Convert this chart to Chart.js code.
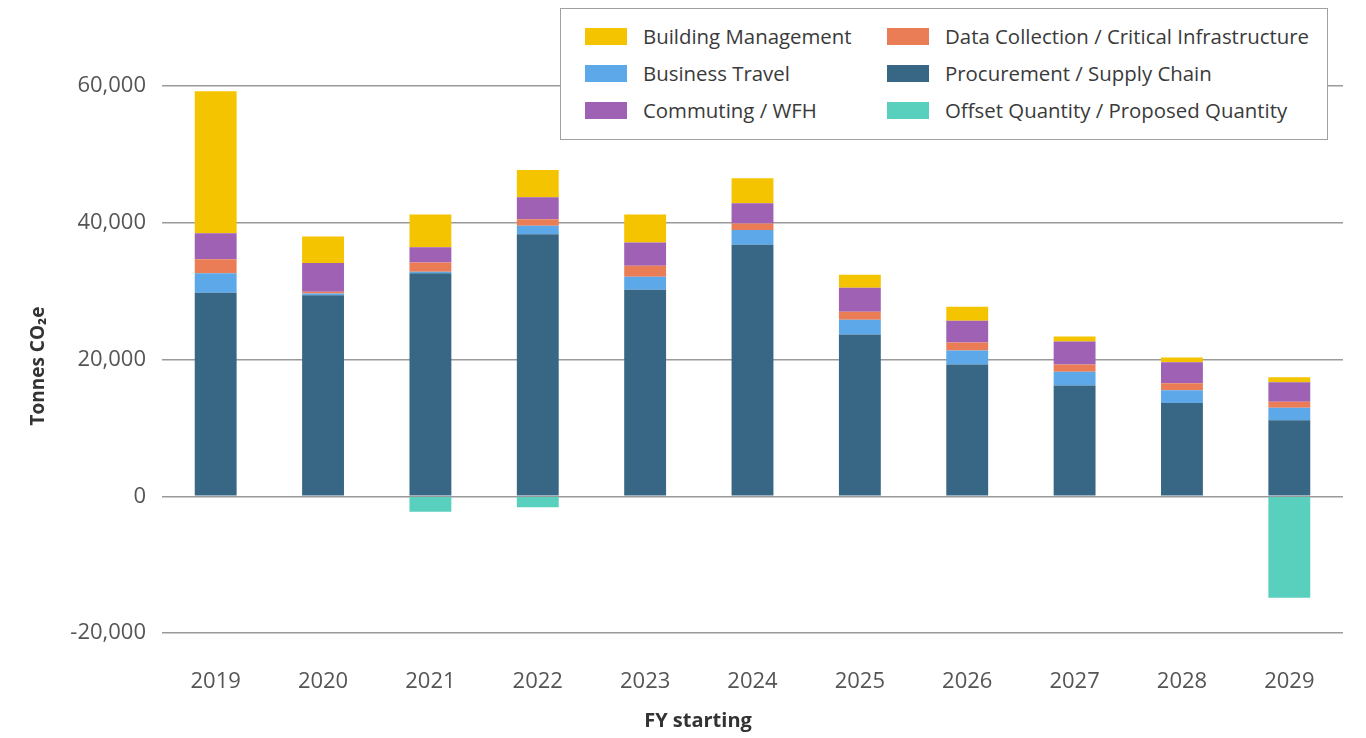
<!DOCTYPE html>
<html>
<head>
<meta charset="utf-8">
<script src="https://cdn.jsdelivr.net/npm/chart.js@4"></script>
<style>
  html, body { margin: 0; padding: 0; background: #fff; }
  #wrap { position: relative; width: 1366px; height: 738px; }
  canvas { position: absolute; left: 0; top: 0; }
  #legend {
    position: absolute; left: 560px; top: 8px; width: 768px; height: 132px;
    border: 1px solid #a0a0a0; background: #fff; box-sizing: border-box;
    font-family: "Open Sans", sans-serif; font-size: 20.4px; color: #3a3a3a;
  }
  .item { position: absolute; display: flex; align-items: center; white-space: nowrap; }
  .sw { width: 42px; height: 17px; margin-right: 16px; }
</style>
</head>
<body>
<div id="wrap">
  <canvas id="c" width="1366" height="738"></canvas>
  <div id="legend"></div>
</div>
<script>
const categories = ["2019","2020","2021","2022","2023","2024","2025","2026","2027","2028","2029"];
const procurement = [29750, 29400, 32600, 38300, 30200, 36800, 23650, 19270, 16200, 13650, 11100];
const businessTravel = [2870, 250, 250, 1270, 1900, 2150, 2170, 2040, 2000, 1850, 1850];
const dataCollection = [2050, 250, 1350, 930, 1600, 950, 1170, 1160, 1070, 1020, 870];
const commuting = [3800, 4200, 2200, 3230, 3400, 2950, 3490, 3210, 3350, 3060, 2870];
const building = [20750, 3900, 4800, 3970, 4100, 3650, 1900, 2040, 730, 730, 730];
const offset = [0, 0, -2250, -1620, 0, 0, 0, 0, 0, 0, -14850];
const yTicks = [-20000, 0, 20000, 40000, 60000];

const colors = {
  building: "#F5C400",
  data: "#EB7D56",
  travel: "#5CA8E8",
  procurement: "#376785",
  commuting: "#9E61B4",
  offset: "#59CFBD"
};

const datasets = [
  { key: "procurement", label: "Procurement / Supply Chain", data: procurement, backgroundColor: colors.procurement },
  { key: "travel", label: "Business Travel", data: businessTravel, backgroundColor: colors.travel },
  { key: "data", label: "Data Collection / Critical Infrastructure", data: dataCollection, backgroundColor: colors.data },
  { key: "commuting", label: "Commuting / WFH", data: commuting, backgroundColor: colors.commuting },
  { key: "building", label: "Building Management", data: building, backgroundColor: colors.building },
  { key: "offset", label: "Offset Quantity / Proposed Quantity", data: offset, backgroundColor: colors.offset }
];

const legendOrder = [
  ["building", 0, 0], ["data", 1, 0],
  ["travel", 0, 1], ["procurement", 1, 1],
  ["commuting", 0, 2], ["offset", 1, 2]
];
const legendEl = document.getElementById("legend");
legendOrder.forEach(function (entry) {
  const k = entry[0], col = entry[1], row = entry[2];
  const ds = datasets.find(function (d) { return d.key === k; });
  const it = document.createElement("div");
  it.className = "item";
  it.style.left = (col === 0 ? 24 : 326) + "px";
  it.style.top = (13 + row * 37) + "px";
  it.innerHTML = '<div class="sw" style="background:' + ds.backgroundColor + '"></div><span>' + ds.label + '</span>';
  legendEl.appendChild(it);
});

const xTitle = "FY starting";
const yTitle = "Tonnes CO\u2082e";

const titlePlugin = {
  id: "titles",
  afterDraw: function (chart) {
    const ctx = chart.ctx;
    ctx.save();
    ctx.fillStyle = "#333";
    ctx.font = "bold 20px 'Open Sans', sans-serif";
    ctx.textAlign = "center";
    ctx.textBaseline = "middle";
    ctx.fillText(xTitle, 698, 721);
    ctx.translate(39, 366);
    ctx.rotate(-Math.PI / 2);
    ctx.font = "bold 19px 'Open Sans', sans-serif";
    ctx.fillText(yTitle, 0, 0);
    ctx.restore();
  }
};

const tickFont = { family: "'Open Sans', sans-serif", size: 22 };
new Chart(document.getElementById("c"), {
  type: "bar",
  data: {
    labels: categories,
    datasets: datasets.map(function (d) {
      return {
        label: d.label, data: d.data, backgroundColor: d.backgroundColor,
        borderWidth: 0, categoryPercentage: 1, barPercentage: 0.39
      };
    })
  },
  options: {
    responsive: false,
    animation: false,
    devicePixelRatio: 1,
    layout: { padding: { left: 28, right: 23, top: 86, bottom: 7 } },
    plugins: { legend: { display: false }, tooltip: { enabled: false } },
    scales: {
      x: {
        stacked: true,
        grid: { display: false, drawTicks: false },
        border: { display: false },
        ticks: { font: tickFont, color: "#555", padding: 36, maxRotation: 0 },
        afterFit: function (s) { s.height = 98; }
      },
      y: {
        stacked: true,
        min: -20000, max: 60000,
        afterBuildTicks: function (s) { s.ticks = yTicks.map(function (v) { return { value: v }; }); },
        grid: { color: "#9a9a9a", lineWidth: 1.5, drawTicks: false },
        border: { display: false },
        ticks: { font: tickFont, color: "#555", padding: 16 },
        afterFit: function (s) { s.width = 134; }
      }
    }
  },
  plugins: [titlePlugin]
});
</script>
</body>
</html>
